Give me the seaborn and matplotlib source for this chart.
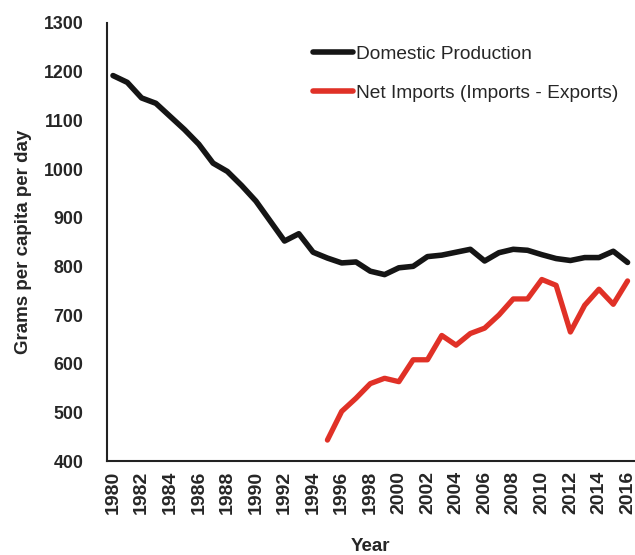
import matplotlib
matplotlib.use("Agg")
import matplotlib.pyplot as plt
import seaborn as sns
import pandas as pd

# values
years_dom = list(range(1980, 2017))
domestic = [1192, 1178, 1146, 1135, 1108, 1081, 1051, 1012, 995, 966,
            934, 893, 852, 867, 829, 817, 807, 809, 790, 783,
            797, 800, 820, 823, 829, 835, 811, 828, 835, 833,
            824, 816, 812, 818, 818, 831, 808]

years_imp = list(range(1995, 2017))
net_imports = [443, 502, 529, 559, 570, 563, 608, 608, 658, 638,
               662, 673, 700, 733, 733, 773, 761, 665, 720, 753,
               722, 770]

x_ticks = list(range(1980, 2017, 2))
y_ticks = list(range(400, 1301, 100))

df_dom = pd.DataFrame({"Year": years_dom, "value": domestic})
df_imp = pd.DataFrame({"Year": years_imp, "value": net_imports})

sns.set_style("white")
plt.rcParams["font.family"] = ["Liberation Sans", "DejaVu Sans"]

fig = plt.figure(figsize=(6.35, 5.55), dpi=100)
ax = fig.add_axes([107 / 635, 94 / 555, 527 / 635, 438 / 555])

sns.lineplot(data=df_dom, x="Year", y="value", ax=ax, color="#151515",
             lw=4.0, label="Domestic Production")
sns.lineplot(data=df_imp, x="Year", y="value", ax=ax, color="#e03127",
             lw=3.8, label="Net Imports (Imports - Exports)")

ax.set_xlim(1979.58, 2016.45)
ax.set_ylim(400, 1300)
ax.set_xticks(x_ticks)
ax.set_yticks(y_ticks)
ax.set_xticklabels([str(t) for t in x_ticks], rotation=90, fontsize=14, fontweight="bold")
ax.set_yticklabels([str(t) for t in y_ticks], fontsize=12.8, fontweight="bold")
ax.tick_params(axis="x", length=0, pad=7)
ax.tick_params(axis="y", length=0, pad=17)

ax.set_xlabel("Year", fontsize=13.5, fontweight="bold", labelpad=17)
ax.set_ylabel("Grams per capita per day", fontsize=13.5, fontweight="bold", labelpad=8)

for side in ["top", "right"]:
    ax.spines[side].set_visible(False)
for side in ["left", "bottom"]:
    ax.spines[side].set_color("#222222")
    ax.spines[side].set_linewidth(1.5)

leg = ax.legend(loc="upper left", bbox_to_anchor=(0.39, 0.948), frameon=False,
                fontsize=13.8, handlelength=2.1, handletextpad=0.15,
                labelspacing=1.1, borderpad=0, borderaxespad=0)
for line in leg.get_lines():
    line.set_linewidth(4)

fig.savefig("out.png", dpi=100)
